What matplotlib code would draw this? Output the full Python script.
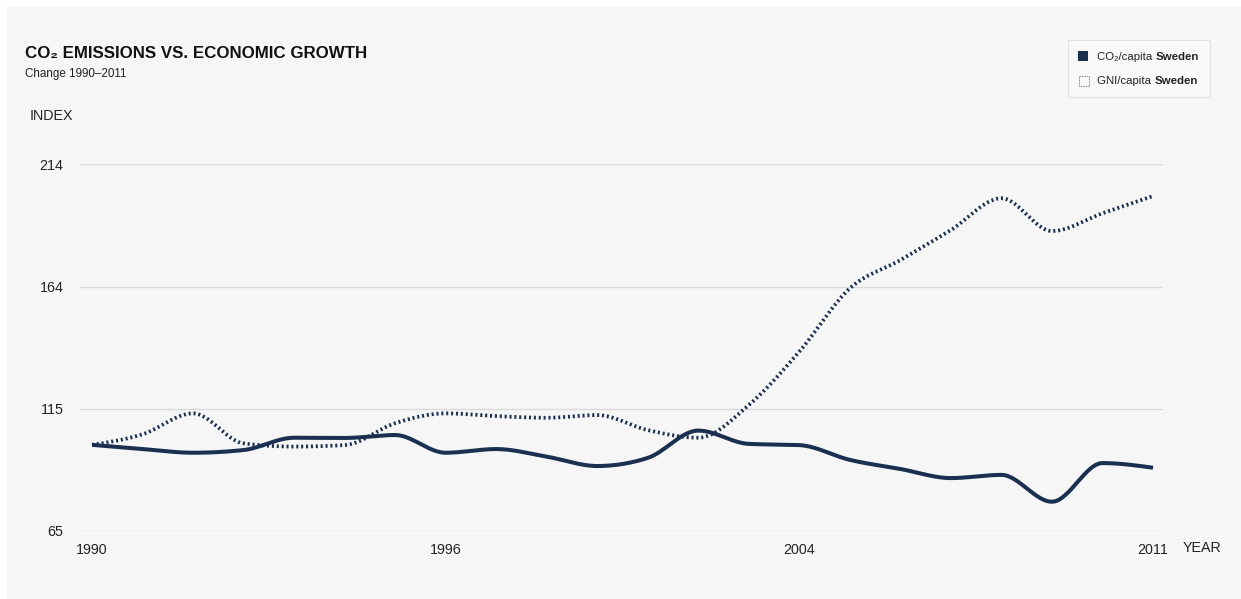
import numpy as np
import matplotlib
matplotlib.use("Agg")
import matplotlib.pyplot as plt
from matplotlib.patches import Rectangle

plt.rcParams['font.family'] = ['Liberation Sans', 'DejaVu Sans']

years = list(range(1990, 2012))
co2_per_capita = [100, 98.3, 96.8, 97.9, 102.9, 102.8, 104.0, 96.8, 98.3, 95.2, 91.4,
                  94.7, 105.8, 100.4, 99.9, 93.9, 90.2, 86.5, 87.8, 76.9, 92.6, 90.7]
gni_per_capita = [100, 104.3, 112.8, 100.6, 99.3, 99.9, 108.8, 112.8, 111.7, 111.0, 112.1,
                  106.0, 102.9, 116.2, 137.9, 163.6, 175.1, 187.3, 200.2, 186.9, 194.1, 201.1]
x_tick_labels = ["1990", "1996", "2004", "2011"]
y_tick_labels = ["65", "115", "164", "214"]
legend_labels = [("CO\u2082/capita ", "Sweden"), ("GNI/capita ", "Sweden")]

NAVY = "#1b3050"
W, H = 1241, 599


def monotone_curve(x, y, n=30):
    x = np.asarray(x, float)
    y = np.asarray(y, float)
    h = np.diff(x)
    s = np.diff(y) / h
    t = np.zeros_like(y)
    for i in range(1, len(y) - 1):
        s0, s1 = s[i - 1], s[i]
        h0, h1 = h[i - 1], h[i]
        p = (s0 * h1 + s1 * h0) / (h0 + h1)
        t[i] = (np.sign(s0) + np.sign(s1)) * min(abs(s0), abs(s1), 0.5 * abs(p))
    t[0] = (3 * s[0] - t[1]) / 2
    t[-1] = (3 * s[-1] - t[-2]) / 2
    xs, ys = [], []
    for i in range(len(x) - 1):
        u = np.linspace(0, 1, n, endpoint=False)
        h00 = 2 * u**3 - 3 * u**2 + 1
        h10 = u**3 - 2 * u**2 + u
        h01 = -2 * u**3 + 3 * u**2
        h11 = u**3 - u**2
        xs.append(x[i] + u * h[i])
        ys.append(h00 * y[i] + h10 * h[i] * t[i] + h01 * y[i + 1] + h11 * h[i] * t[i + 1])
    xs.append([x[-1]])
    ys.append([y[-1]])
    return np.concatenate(xs), np.concatenate(ys)


fig = plt.figure(figsize=(W / 100, H / 100), dpi=100, facecolor="white")
fig.add_artist(Rectangle((7 / W, 0), 1, 592 / H, transform=fig.transFigure,
                         facecolor="#f6f6f6", edgecolor="none", zorder=-10))

ax = fig.add_axes([80 / W, 68 / H, 1083 / W, 366.7 / H])
ax.set_facecolor("none")

xi = np.arange(len(years))
cx, cy = monotone_curve(xi, co2_per_capita)
gx, gy = monotone_curve(xi, gni_per_capita)
ax.plot(gx, gy, color=NAVY, lw=2.7, linestyle=(0, (0.55, 0.75)), dash_capstyle="butt", zorder=3)
ax.plot(cx, cy, color=NAVY, lw=2.9, solid_capstyle="butt", zorder=4)

ymin, ymax = 65, 214
ax.set_ylim(ymin, ymax)
ax.set_xlim(-12 / 50.52, len(years) - 1 + 10 / 50.52)
yt = np.linspace(ymin, ymax, len(y_tick_labels))
ax.set_yticks(yt)
ax.set_yticklabels(y_tick_labels)
xt = np.linspace(0, len(years) - 1, len(x_tick_labels))
ax.set_xticks(xt)
ax.set_xticklabels(x_tick_labels)
ax.grid(axis="y", color="#dadada", lw=1.0)
ax.grid(axis="x", visible=False)
ax.set_axisbelow(True)
for sp in ax.spines.values():
    sp.set_visible(False)
ax.tick_params(axis="both", length=0, labelsize=10.3, colors="#222222")
ax.tick_params(axis="y", pad=12)
ax.tick_params(axis="x", pad=9)

# titles
fig.text(25 / W, 1 - 54 / H, "CO\u2082 EMISSIONS VS. ECONOMIC GROWTH", fontsize=12.2,
         fontweight="bold", color="#111111", va="center", ha="left")
fig.text(25 / W, 1 - 74 / H, "Change 1990\u20132011", fontsize=8.4, color="#222222",
         va="center", ha="left")
fig.text(30 / W, 1 - 116 / H, "INDEX", fontsize=10.3, color="#222222", va="center", ha="left")
fig.text(1183 / W, 1 - 548 / H, "YEAR", fontsize=10.3, color="#222222", va="center", ha="left")

# legend
fig.add_artist(Rectangle((1068 / W, 1 - 97 / H), 142 / W, 57 / H, transform=fig.transFigure,
                         facecolor="#f9f9f9", edgecolor="#e2e2e2", lw=0.8, zorder=1))
fig.add_artist(Rectangle((1078 / W, 1 - 61 / H), 10 / W, 10 / H, transform=fig.transFigure,
                         facecolor=NAVY, edgecolor="none", zorder=2))
fig.add_artist(Rectangle((1078.5 / W, 1 - 86 / H), 10 / W, 9.5 / H, transform=fig.transFigure,
                         facecolor="none", edgecolor="#555555", lw=0.6, linestyle=(0, (1, 1)),
                         zorder=2))
fig.canvas.draw()
r = fig.canvas.get_renderer()
for k, (normal, bold) in enumerate(legend_labels):
    yy = 1 - (56.5 + 25 * k) / H
    t1 = fig.text(1097 / W, yy, normal, fontsize=8.2, color="#222222", va="center", ha="left")
    bb = t1.get_window_extent(renderer=r)
    fig.text(bb.x1 / W, yy, bold, fontsize=8.2, fontweight="bold", color="#222222",
             va="center", ha="left")

fig.savefig("out.png", dpi=100, facecolor="white")
